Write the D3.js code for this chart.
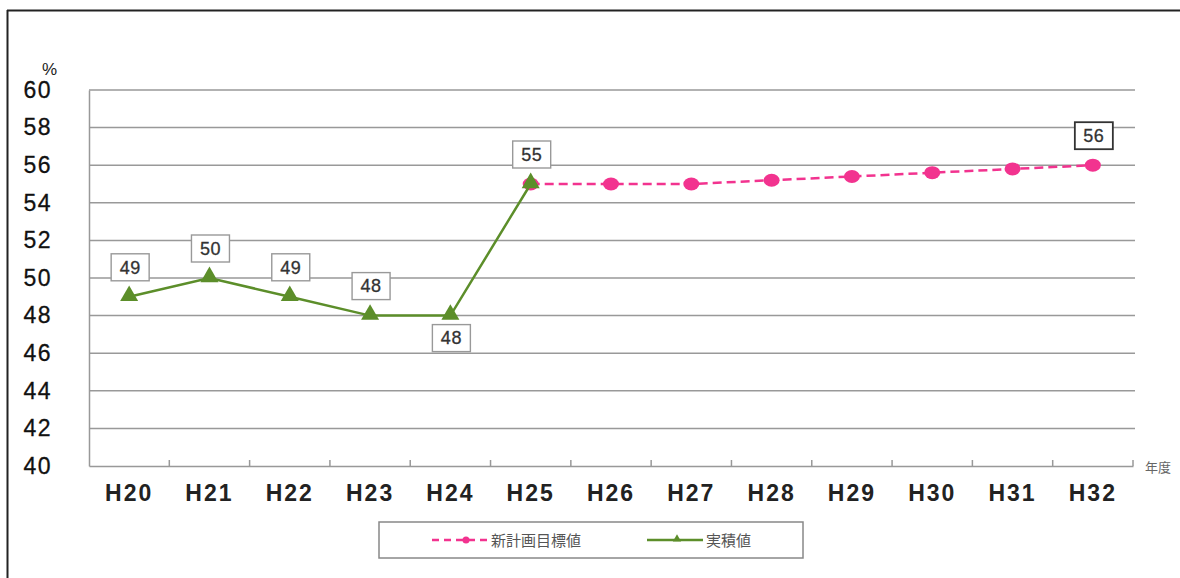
<!DOCTYPE html>
<html>
<head>
<meta charset="utf-8">
<script src="https://cdn.jsdelivr.net/npm/d3@7"></script>
<style>
  body { margin: 0; background: #fff; }
  svg { display: block; }
  .tick text { font-family: "Liberation Sans", Arial, sans-serif; }
</style>
</head>
<body>
<div id="chart"></div>
<script>
const years = ["H20", "H21", "H22", "H23", "H24", "H25", "H26", "H27", "H28", "H29", "H30", "H31", "H32"];
const actualYears = ["H20", "H21", "H22", "H23", "H24", "H25"];
const actualValues = [49, 50, 49, 48, 48, 55];
const targetYears = ["H25", "H26", "H27", "H28", "H29", "H30", "H31", "H32"];
const targetValues = [55, 55, 55, 55.2, 55.4, 55.6, 55.8, 56];
const yTicks = [40, 42, 44, 46, 48, 50, 52, 54, 56, 58, 60];
const legendNames = ["新計画目標値", "実積値"];

const W = 1180, H = 578;
const m = { left: 89, top: 90, right: 47, bottom: 112 };
const pink = "#f2338f", green = "#5c8e2a";

const svg = d3.select("#chart").append("svg")
    .attr("width", W).attr("height", H);

// outer frame (top and left only)
svg.append("line").attr("x1", 7).attr("x2", W).attr("y1", 10.5).attr("y2", 10.5)
    .attr("stroke", "#222").attr("stroke-width", 2);
svg.append("line").attr("x1", 7.5).attr("x2", 7.5).attr("y1", 10).attr("y2", H)
    .attr("stroke", "#222").attr("stroke-width", 2);

const x = d3.scaleBand().domain(years).range([m.left, W - m.right]);
const y = d3.scaleLinear().domain([40, 60]).range([H - m.bottom, m.top]);
const cx = d => x(d) + x.bandwidth() / 2;

// gridlines
svg.append("g").selectAll("line").data(yTicks.slice(1)).join("line")
    .attr("x1", m.left).attr("x2", W - m.right + 2)
    .attr("y1", d => y(d)).attr("y2", d => y(d))
    .attr("stroke", "#999").attr("stroke-width", 1.5);

// y axis
const yAxis = svg.append("g").attr("transform", `translate(${m.left},0)`)
    .call(d3.axisLeft(y).tickValues(yTicks).tickSize(0).tickPadding(37));
yAxis.select(".domain").attr("stroke", "#999").attr("stroke-width", 1.5);
yAxis.selectAll("text").attr("font-size", 23).attr("letter-spacing", 1.5)
    .attr("fill", "#111").attr("stroke", "#111").attr("stroke-width", 0.3);

// x axis
const xAxis = svg.append("g").attr("transform", `translate(0,${y(40)})`)
    .call(d3.axisBottom(x).tickSize(0).tickPadding(19));
xAxis.select(".domain").attr("stroke", "#999").attr("stroke-width", 1.5);
xAxis.selectAll("text").attr("font-size", 23).attr("font-weight", "bold")
    .attr("letter-spacing", 2).attr("fill", "#222");
svg.append("g").selectAll("line").data(years.slice(1).concat(["end"])).join("line")
    .attr("x1", d => d === "end" ? W - m.right : x(d))
    .attr("x2", d => d === "end" ? W - m.right : x(d))
    .attr("y1", y(40)).attr("y2", y(40) - 6)
    .attr("stroke", "#999").attr("stroke-width", 1.5);

svg.append("text").attr("x", 42).attr("y", 75).text("%")
    .attr("font-family", "Liberation Sans, Arial, sans-serif").attr("font-size", 17).attr("fill", "#222");
svg.append("text").attr("x", 1145).attr("y", 472).text("年度")
    .attr("font-family", "Noto Sans CJK JP, sans-serif").attr("font-size", 13).attr("fill", "#666");

// target series (pink dashed)
const line = d3.line().x(d => cx(d[0])).y(d => y(d[1]));
const targetPts = targetYears.map((d, i) => [d, targetValues[i]]);
svg.append("path").datum(targetPts).attr("d", line)
    .attr("fill", "none").attr("stroke", pink).attr("stroke-width", 2.5)
    .attr("stroke-dasharray", "9,5");
svg.append("g").selectAll("ellipse").data(targetPts).join("ellipse")
    .attr("cx", d => cx(d[0])).attr("cy", d => y(d[1]))
    .attr("rx", 8).attr("ry", 6.5).attr("fill", pink);

// actual series (green, triangles)
const actualPts = actualYears.map((d, i) => [d, actualValues[i]]);
svg.append("path").datum(actualPts).attr("d", line)
    .attr("fill", "none").attr("stroke", green).attr("stroke-width", 2.5);
const tri = d3.symbol().type(d3.symbolTriangle).size(140);
svg.append("g").selectAll("path").data(actualPts).join("path")
    .attr("d", tri)
    .attr("transform", d => `translate(${cx(d[0])},${y(d[1]) - 1})`)
    .attr("fill", green);

// data labels
const labels = actualPts.map((d, i) => ({ key: d[0], v: d[1], below: i === 4, dark: false }));
labels.push({ key: "H32", v: 56, below: false, dark: true });
const lab = svg.append("g").selectAll("g").data(labels).join("g")
    .attr("transform", d => `translate(${cx(d.key) + 1},${y(d.v) + (d.below ? 22 : -30)})`);
lab.append("rect").attr("x", -19).attr("y", -13).attr("width", 38).attr("height", 27)
    .attr("fill", "#fff")
    .attr("stroke", d => d.dark ? "#333" : "#999")
    .attr("stroke-width", d => d.dark ? 1.8 : 1.4);
lab.append("text").attr("text-anchor", "middle").attr("dy", "0.38em")
    .attr("font-family", "Liberation Sans, Arial, sans-serif").attr("font-size", 18)
    .attr("letter-spacing", 0.5)
    .attr("fill", "#333").attr("stroke", "#333").attr("stroke-width", 0.3).text(d => d.v);

// legend
const lg = svg.append("g");
lg.append("rect").attr("x", 379).attr("y", 522).attr("width", 424).attr("height", 36)
    .attr("fill", "#fff").attr("stroke", "#888").attr("stroke-width", 1.5);
const items = [
    { name: legendNames[0], color: pink, x0: 432, mx: 466, dash: "7,5", mark: "circle" },
    { name: legendNames[1], color: green, x0: 647, mx: 677, dash: null, mark: "tri" }
];
items.forEach(it => {
    lg.append("line").attr("x1", it.x0).attr("x2", it.x0 + 56).attr("y1", 540).attr("y2", 540)
        .attr("stroke", it.color).attr("stroke-width", 2.5)
        .attr("stroke-dasharray", it.dash);
    if (it.mark === "circle") {
        lg.append("circle").attr("cx", it.mx).attr("cy", 540).attr("r", 3.5).attr("fill", it.color);
    } else {
        lg.append("path").attr("d", d3.symbol().type(d3.symbolTriangle).size(30))
            .attr("transform", `translate(${it.mx},539)`).attr("fill", it.color);
    }
    lg.append("text").attr("x", it.x0 + 59).attr("y", 546).text(it.name)
        .attr("font-family", "Noto Sans CJK JP, sans-serif").attr("font-size", 15).attr("fill", "#555");
});
</script>
</body>
</html>
